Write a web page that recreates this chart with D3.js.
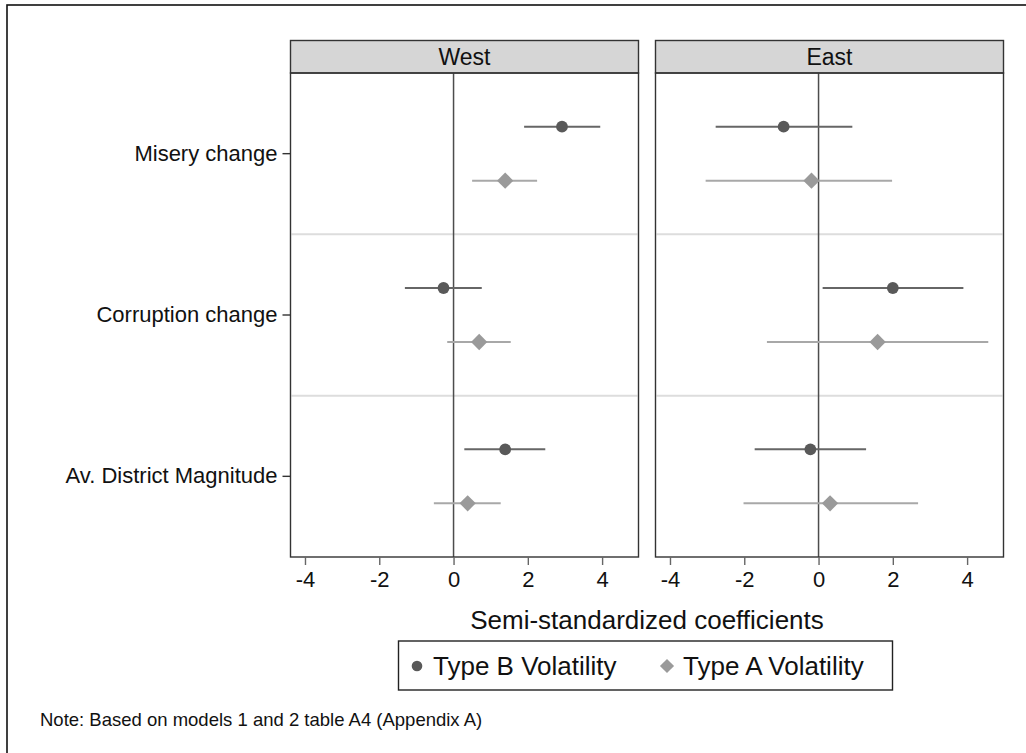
<!DOCTYPE html>
<html>
<head>
<meta charset="utf-8">
<script src="https://cdn.jsdelivr.net/npm/d3@7"></script>
<style>
  body { margin: 0; background: #fff; }
  svg { display: block; font-family: "Liberation Sans", Arial, Helvetica, sans-serif; }
</style>
</head>
<body>
<div id="chart"></div>
<script>
// data
const panels = ['West', 'East'];
const rows = ['Misery change', 'Corruption change', 'Av. District Magnitude'];
const xTicks = [-4, -2, 0, 2, 4];

// Type B volatility (circles): estimate, lower, upper per row
const westB = [2.92, -0.27, 1.39];
const westBLo = [1.90, -1.31, 0.29];
const westBHi = [3.95, 0.76, 2.47];
const eastB = [-0.94, 2.00, -0.22];
const eastBLo = [-2.77, 0.11, -1.72];
const eastBHi = [0.91, 3.90, 1.28];

// Type A volatility (diamonds)
const westA = [1.39, 0.69, 0.38];
const westALo = [0.50, -0.17, -0.53];
const westAHi = [2.25, 1.54, 1.27];
const eastA = [-0.19, 1.59, 0.31];
const eastALo = [-3.04, -1.39, -2.02];
const eastAHi = [1.98, 4.57, 2.68];

const series = [
  { name: 'Type B Volatility', shape: 'circle', dot: '#595959', line: '#666666', off: -27,
    vals: { West: [westB, westBLo, westBHi], East: [eastB, eastBLo, eastBHi] } },
  { name: 'Type A Volatility', shape: 'diamond', dot: '#9a9a9a', line: '#a8a8a8', off: 27,
    vals: { West: [westA, westALo, westAHi], East: [eastA, eastALo, eastAHi] } }
];

const W = 1026, H = 753;
const svg = d3.select('#chart').append('svg').attr('width', W).attr('height', H);

// outer frame (only top/left show in the picture)
svg.append('rect')
  .attr('x', 7).attr('y', 5).attr('width', 1040).attr('height', 770)
  .attr('fill', 'none').attr('stroke', '#111').attr('stroke-width', 1.6);

const plotTop = 73, plotBottom = 557, panelW = 348;
const panelX = { West: 290.5, East: 655.5 };

const x = d3.scaleLinear().domain([-4.39, 4.98]).range([0, panelW]);
const y = d3.scaleBand().domain(rows).range([plotTop, plotBottom]);
const rowMid = r => y(r) + y.bandwidth() / 2;

const circle = d3.symbol().type(d3.symbolCircle).size(Math.PI * 5.9 * 5.9);
const diamond = d3.symbol().type(d3.symbolSquare).size(11.5 * 11.5);

panels.forEach(p => {
  const g = svg.append('g').attr('transform', `translate(${panelX[p]},0)`);

  // header strip
  g.append('rect')
    .attr('x', 0).attr('y', 40.5).attr('width', panelW).attr('height', plotTop - 40.5)
    .attr('fill', '#d6d6d6').attr('stroke', '#333').attr('stroke-width', 1.4);
  g.append('text')
    .attr('x', panelW / 2).attr('y', 64.5)
    .attr('text-anchor', 'middle').attr('font-size', 23).attr('fill', '#111')
    .text(p);

  // row separators
  rows.slice(1).forEach(r => {
    g.append('line')
      .attr('x1', 1).attr('x2', panelW - 1)
      .attr('y1', y(r)).attr('y2', y(r))
      .attr('stroke', '#dddddd').attr('stroke-width', 2);
  });

  // zero line
  g.append('line')
    .attr('x1', x(0)).attr('x2', x(0)).attr('y1', plotTop).attr('y2', plotBottom)
    .attr('stroke', '#4d4d4d').attr('stroke-width', 1.5);

  // intervals and points
  series.forEach(s => {
    const [est, lo, hi] = s.vals[p];
    rows.forEach((r, i) => {
      const yy = rowMid(r) + s.off;
      g.append('line')
        .attr('x1', x(lo[i])).attr('x2', x(hi[i])).attr('y1', yy).attr('y2', yy)
        .attr('stroke', s.line).attr('stroke-width', 2);
      g.append('path')
        .attr('d', s.shape === 'circle' ? circle() : diamond())
        .attr('transform', `translate(${x(est[i])},${yy})` + (s.shape === 'diamond' ? ' rotate(45)' : ''))
        .attr('fill', s.dot);
    });
  });

  // panel border
  g.append('rect')
    .attr('x', 0).attr('y', plotTop).attr('width', panelW).attr('height', plotBottom - plotTop)
    .attr('fill', 'none').attr('stroke', '#333').attr('stroke-width', 1.4);

  // x axis
  const ax = g.append('g').attr('transform', `translate(0,${plotBottom})`)
    .call(d3.axisBottom(x).tickValues(xTicks).tickSize(8).tickPadding(6).tickFormat(d3.format('d')));
  ax.select('.domain').remove();
  ax.selectAll('.tick line').attr('stroke', '#666').attr('stroke-width', 1.4);
  ax.selectAll('.tick text').attr('font-size', 22).attr('fill', '#111')
    .attr('font-family', '"Liberation Sans", Arial, sans-serif')
    .text(d => d < 0 ? '-' + Math.abs(d) : d);
});

// y axis on the West panel
const ay = svg.append('g').attr('transform', `translate(${panelX.West},0)`)
  .call(d3.axisLeft(y).tickSize(8).tickPadding(5));
ay.select('.domain').remove();
ay.selectAll('.tick line').attr('stroke', '#333').attr('stroke-width', 1.4);
ay.selectAll('.tick text').attr('font-size', 22).attr('fill', '#111')
  .attr('font-family', '"Liberation Sans", Arial, sans-serif');

// axis title
svg.append('text')
  .attr('x', (panelX.West + panelX.East + panelW) / 2).attr('y', 629)
  .attr('text-anchor', 'middle').attr('font-size', 26).attr('fill', '#111')
  .text('Semi-standardized coefficients');

// legend
const leg = svg.append('g');
leg.append('rect')
  .attr('x', 398.5).attr('y', 641).attr('width', 494).attr('height', 49)
  .attr('fill', '#fff').attr('stroke', '#222').attr('stroke-width', 1.4);
const legX = [417, 667];
series.forEach((s, i) => {
  leg.append('path')
    .attr('d', s.shape === 'circle' ? circle.size(Math.PI * 5.3 * 5.3)() : diamond.size(10 * 10)())
    .attr('transform', `translate(${legX[i]},666)` + (s.shape === 'diamond' ? ' rotate(45)' : ''))
    .attr('fill', s.dot);
  leg.append('text')
    .attr('x', legX[i] + 16).attr('y', 675)
    .attr('font-size', 26).attr('fill', '#111')
    .text(s.name);
});

// note
svg.append('text')
  .attr('x', 40).attr('y', 726)
  .attr('font-size', 18.5).attr('fill', '#111')
  .text('Note: Based on models 1 and 2 table A4 (Appendix A)');
</script>
</body>
</html>
